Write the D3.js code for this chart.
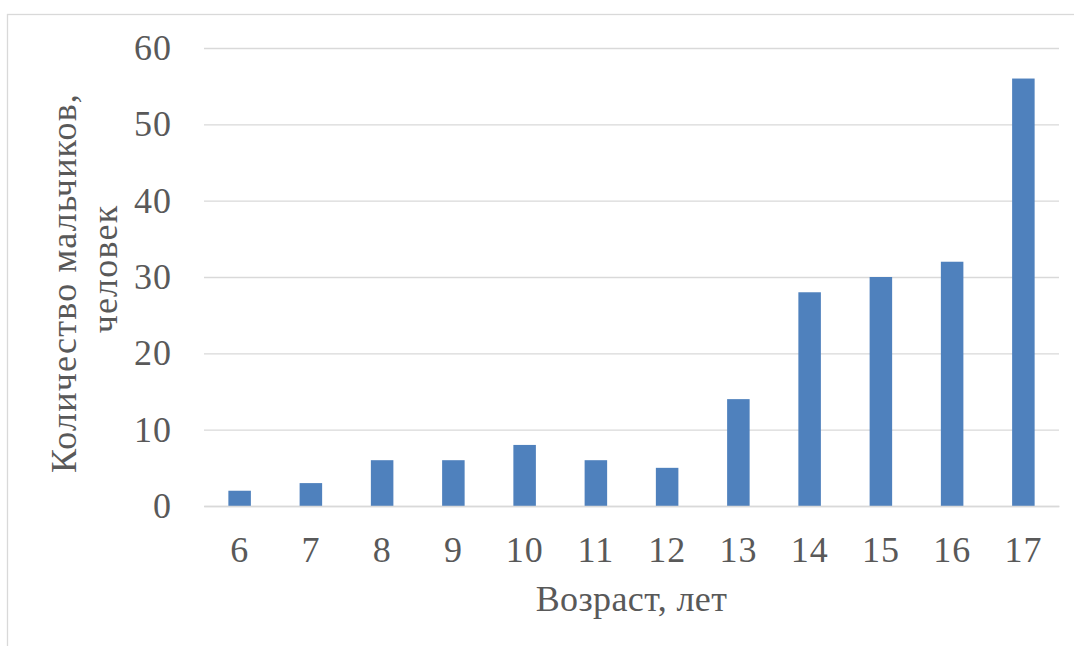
<!DOCTYPE html>
<html>
<head>
<meta charset="utf-8">
<script src="https://cdn.jsdelivr.net/npm/d3@7"></script>
<style>
  html, body { margin: 0; padding: 0; background: #fff; }
  svg { display: block; }
  svg text { font-family: "Liberation Serif", "Times New Roman", "DejaVu Serif", serif; }
</style>
</head>
<body>
<script>
// Age groups (years) and number of boys in each group
const ages = ["6", "7", "8", "9", "10", "11", "12", "13", "14", "15", "16", "17"];
const boys = [2, 3, 6, 6, 8, 6, 5, 14, 28, 30, 32, 56];
const yTicks = [0, 10, 20, 30, 40, 50, 60];
const xTitle = "Возраст, лет";
const yTitleLines = ["Количество мальчиков,", "человек"];

const W = 1074, H = 646;
const plot = { left: 204, right: 1059, top: 48, bottom: 506 };
const textColor = "#595959";
const gridColor = "#d9d9d9";
const fontSize = "36px";

const svg = d3.select("body").append("svg")
  .attr("width", W).attr("height", H);

// chart frame
svg.append("rect")
  .attr("x", 7.5).attr("y", 14.5)
  .attr("width", W + 20).attr("height", H + 20)
  .attr("fill", "#fff")
  .attr("stroke", gridColor).attr("stroke-width", 1.3);

const x = d3.scaleBand()
  .domain(ages)
  .range([plot.left, plot.right])
  .paddingInner(0.684)
  .paddingOuter(0.342);

const y = d3.scaleLinear()
  .domain([0, 60])
  .range([plot.bottom, plot.top]);

// horizontal gridlines + tick labels
const yAxis = d3.axisLeft(y)
  .tickValues(yTicks)
  .tickSize(-(plot.right - plot.left))
  .tickPadding(32);

const gy = svg.append("g")
  .attr("transform", `translate(${plot.left},0)`)
  .call(yAxis)
  .attr("font-family", null)
  .attr("font-size", null);
gy.select(".domain").remove();
gy.selectAll(".tick line")
  .attr("stroke", gridColor).attr("stroke-width", 1.3);
gy.selectAll(".tick text")
  .attr("fill", textColor)
  .style("font-size", fontSize)
  .style("letter-spacing", "1px");

// bars
svg.append("g").selectAll("rect")
  .data(boys)
  .join("rect")
  .attr("x", (d, i) => x(ages[i]))
  .attr("width", x.bandwidth())
  .attr("y", d => y(d))
  .attr("height", d => y(0) - y(d))
  .attr("fill", "#4f81bd");

// category axis
const xAxis = d3.axisBottom(x).tickSize(0).tickPadding(30);
const gx = svg.append("g")
  .attr("transform", `translate(0,${plot.bottom})`)
  .call(xAxis)
  .attr("font-family", null)
  .attr("font-size", null);
gx.select(".domain")
  .attr("stroke", gridColor).attr("stroke-width", 1.5);
gx.selectAll(".tick text")
  .attr("fill", textColor)
  .style("font-size", fontSize)
  .style("letter-spacing", "1px");

// axis titles
svg.append("text")
  .attr("x", (plot.left + plot.right) / 2)
  .attr("y", 611)
  .attr("text-anchor", "middle")
  .attr("fill", textColor)
  .style("font-size", fontSize)
  .style("letter-spacing", "0.4px")
  .text(xTitle);

const yTitlePos = [{ bx: 76, cy: 283 }, { bx: 117, cy: 269 }];
yTitleLines.forEach((line, i) => {
  svg.append("text")
    .attr("transform", `translate(${yTitlePos[i].bx},${yTitlePos[i].cy}) rotate(-90)`)
    .attr("text-anchor", "middle")
    .attr("fill", textColor)
    .style("font-size", fontSize)
    .style("letter-spacing", "1.2px")
    .text(line);
});
</script>
</body>
</html>
